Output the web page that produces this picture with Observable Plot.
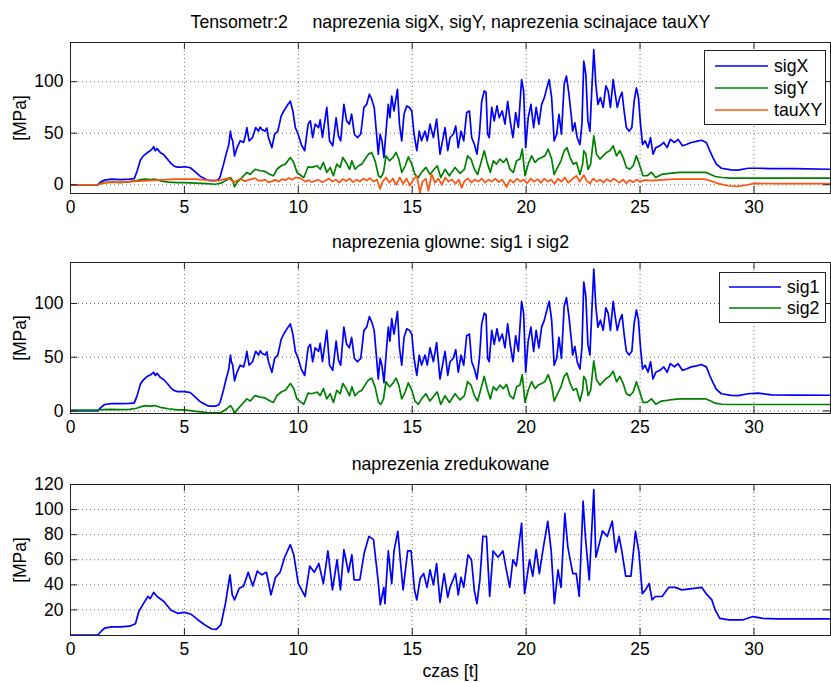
<!DOCTYPE html>
<html><head><meta charset="utf-8">
<script src="https://cdn.jsdelivr.net/npm/d3@7"></script>
<script src="https://cdn.jsdelivr.net/npm/@observablehq/plot@0.6"></script>
<style>
body{margin:0;background:#fff;}
#fig{position:relative;width:831px;height:683px;font-family:"Liberation Sans",Arial,sans-serif;color:#000;overflow:hidden;background:#fff}
.title{position:absolute;left:70px;width:761px;text-align:center;font-size:17.7px;line-height:17px;white-space:pre}
.panel{position:absolute;left:0}
.legend{position:absolute}
</style></head>
<body><div id="fig"></div>
<script>
// ---- data (time [s], value [MPa]) ----
const xTicks = [0, 5, 10, 15, 20, 25, 30];
const yTicksTop = [0, 50, 100];
const yTicksBottom = [20, 40, 60, 80, 100, 120];

const sigX = [[0,0],[1.2,0],[1.35,3],[1.5,4.5],[1.8,5.5],[2.2,5],[2.6,5.5],[2.8,6],[2.92,13],[3.07,24],[3.2,28],[3.36,31],[3.5,33],[3.6,35],[3.65,37],[3.72,33],[3.8,35],[3.95,31],[4.1,29],[4.25,25],[4.4,21],[4.55,18],[4.7,17],[4.85,17],[5.0,17.5],[5.15,17],[5.26,16.5],[5.4,14],[5.55,11],[5.7,8],[5.84,6.5],[6.0,4.5],[6.14,4],[6.36,3.9],[6.5,5],[6.58,8.7],[6.72,20],[6.83,29.7],[6.95,39],[7.02,52],[7.06,46],[7.12,42.6],[7.2,28],[7.31,36],[7.45,42.6],[7.6,41],[7.68,48],[7.74,55.5],[7.84,42.6],[7.99,45.8],[8.13,55.5],[8.25,52],[8.33,56],[8.4,53.6],[8.54,52],[8.62,55],[8.69,45.8],[8.84,36],[8.96,49],[9.1,52],[9.25,66.8],[9.4,73],[9.55,78],[9.65,81],[9.76,71.6],[9.87,55.5],[9.99,49],[10.13,39],[10.28,33],[10.43,58.8],[10.53,62],[10.63,45.8],[10.74,58.8],[10.89,55.5],[10.96,63],[11.06,46],[11.25,75],[11.37,42.6],[11.51,37.8],[11.66,65],[11.76,47.4],[11.86,42.6],[12.0,78],[12.12,62],[12.24,58.8],[12.34,68.4],[12.46,49],[12.59,45.8],[12.74,49],[12.88,75],[13.0,78],[13.12,87.8],[13.22,83],[13.33,75],[13.41,55.5],[13.51,29.7],[13.59,49],[13.67,42.6],[13.76,26.4],[13.85,52],[13.95,78],[14.02,65],[14.1,86],[14.2,71.6],[14.35,92.6],[14.44,58.8],[14.54,42.6],[14.64,68.4],[14.76,76.5],[14.88,75],[14.98,71.6],[15.08,49],[15.2,33],[15.31,52],[15.41,42.6],[15.56,52],[15.66,42.6],[15.78,58.8],[15.93,45.8],[16.07,63.6],[16.22,29.7],[16.33,42.6],[16.44,55.5],[16.56,33],[16.66,45.8],[16.8,49],[16.91,57],[17.02,36],[17.14,52],[17.26,42.6],[17.39,70],[17.51,71.6],[17.61,45.8],[17.73,39],[17.84,29.7],[17.95,49],[18.05,81],[18.16,91],[18.24,89.7],[18.31,49],[18.38,45.8],[18.49,75],[18.6,62],[18.72,76.5],[18.82,65],[18.95,71.6],[19.07,58.8],[19.19,81],[19.3,62],[19.42,45.8],[19.54,70],[19.66,55.5],[19.8,102],[19.89,91],[19.98,36],[20.09,65],[20.21,78],[20.33,55.5],[20.44,75],[20.56,58.8],[20.68,78],[20.8,84.5],[20.91,94],[21.01,102],[21.12,84.5],[21.23,42.6],[21.34,49],[21.44,68.4],[21.55,49],[21.67,97.5],[21.77,105.5],[21.88,87.8],[21.99,65],[22.04,52],[22.14,60],[22.24,45.8],[22.36,39],[22.45,58.8],[22.53,120],[22.62,107],[22.71,62],[22.8,52],[22.88,91],[22.97,131],[23.06,97.5],[23.15,78],[23.26,84.5],[23.38,75],[23.5,96],[23.6,91],[23.7,75],[23.82,102],[23.91,87.8],[24.0,75],[24.11,84.5],[24.21,89.7],[24.3,71.6],[24.4,55.5],[24.52,52],[24.64,55.5],[24.74,81],[24.84,94],[24.93,84.5],[25.02,58.8],[25.11,39],[25.22,42.6],[25.35,36],[25.46,45.8],[25.57,29.7],[25.69,36],[25.87,37.8],[26.04,41],[26.19,36],[26.33,44],[26.51,41],[26.67,44],[26.86,37.8],[27.03,39],[27.25,41],[27.47,42],[27.69,43.2],[27.91,41],[28.06,33],[28.2,26.4],[28.35,20],[28.57,16],[29.0,14.5],[29.3,14.2],[29.74,16],[30.18,16],[30.76,15.7],[31.78,15.7],[33.36,15]];

const sigY = [[0,0],[1.2,0],[1.4,2],[1.8,2.5],[2.2,2],[2.6,3],[2.9,4],[3.1,5],[3.3,5.5],[3.5,5],[3.7,5.5],[4.0,3.5],[4.3,2.5],[4.7,2],[5.0,2],[5.5,1.5],[6.0,1],[6.36,0.5],[6.6,1.5],[6.8,3.9],[7.02,7],[7.12,3.9],[7.2,-2],[7.31,2.3],[7.53,7],[7.74,12],[7.89,10],[8.1,15],[8.33,13.6],[8.54,12.9],[8.76,10],[8.91,8.7],[9.06,15],[9.25,18.4],[9.43,20],[9.65,26.4],[9.8,21.6],[9.94,12],[10.13,8.7],[10.24,7],[10.43,17.4],[10.6,16.8],[10.82,18.4],[10.96,15],[11.1,21.6],[11.25,12],[11.4,16.8],[11.54,8.7],[11.69,20],[11.84,16.8],[11.95,26.4],[12.1,21.6],[12.25,15],[12.35,23.2],[12.49,15],[12.64,18.4],[12.79,20],[12.93,24.9],[13.08,29.7],[13.22,31.3],[13.37,23.2],[13.52,8.7],[13.62,7],[13.74,12],[13.85,28],[14.0,23.2],[14.15,26.4],[14.29,31.3],[14.41,24.9],[14.54,12],[14.69,18.4],[14.83,27],[14.98,20],[15.12,10],[15.27,7],[15.41,12],[15.6,16.8],[15.78,10],[15.96,15],[16.1,18.4],[16.25,7],[16.44,15],[16.63,8.7],[16.88,16.8],[17.1,11],[17.29,15],[17.43,28],[17.58,24.9],[17.73,15],[17.87,10],[18.02,21.6],[18.16,33],[18.31,20],[18.43,12],[18.56,23.2],[18.7,20],[18.85,24.9],[19.0,21.6],[19.14,25.5],[19.29,15],[19.44,12],[19.58,23.2],[19.73,24.9],[19.83,34.5],[19.95,8.7],[20.09,20],[20.24,28],[20.39,21.6],[20.53,24.9],[20.68,26.4],[20.82,28],[20.97,34.5],[21.12,24.9],[21.23,10],[21.38,16.8],[21.53,23.2],[21.67,33],[21.79,36],[21.93,26.4],[22.07,20],[22.21,21.6],[22.36,10],[22.48,20],[22.53,33],[22.62,29.7],[22.72,15],[22.83,20],[22.97,47.4],[23.09,29.7],[23.24,24.9],[23.38,28],[23.53,31.3],[23.67,33],[23.82,37.8],[23.97,28],[24.11,33],[24.26,26.4],[24.4,16.8],[24.55,15],[24.7,18.4],[24.84,28],[24.99,18.4],[25.13,8.7],[25.31,8.7],[25.5,12],[25.69,7],[25.94,10],[26.3,11],[26.74,12],[27.18,12],[27.59,12],[27.9,12],[28.1,10],[28.3,8],[28.6,7],[29,6.5],[33.36,6.5]];

const tauXY = [[0,0],[1.2,0],[1.4,1.5],[1.8,2.5],[2.2,2.5],[2.6,3],[3.0,3.5],[3.4,4],[3.8,4.5],[4.2,5],[4.6,5.5],[5.0,5.5],[5.5,5.5],[6.0,4.5],[6.5,4],[6.95,6.4],[7.17,2.3],[7.45,5.5],[7.65,3.5],[7.82,4.7],[8.1,6.4],[8.25,4],[8.4,3.9],[8.55,5],[8.69,2.3],[8.85,3.5],[8.98,4.7],[9.15,3],[9.28,5.5],[9.45,4.5],[9.57,6.4],[9.75,5],[9.87,7],[10.09,6.4],[10.3,3],[10.45,4.5],[10.6,2.3],[10.75,4],[10.89,4.7],[11.05,2.5],[11.18,3.9],[11.35,6],[11.5,3],[11.65,5],[11.8,2],[11.95,5.5],[12.1,3.5],[12.25,6],[12.4,2.5],[12.55,5],[12.7,3],[12.85,6],[13.0,4],[13.15,6.5],[13.3,3],[13.45,5],[13.59,-4],[13.7,3],[13.85,7],[14.0,2],[14.15,6],[14.3,0],[14.45,7],[14.6,1],[14.75,6],[14.9,-1],[15.05,5],[15.2,8.7],[15.34,-7.5],[15.45,3],[15.6,6],[15.71,-5.8],[15.85,10.3],[16.0,2],[16.15,6],[16.3,0],[16.45,7],[16.6,3],[16.75,5],[16.9,1],[17.05,5],[17.17,-3],[17.3,4],[17.45,6],[17.6,2],[17.75,5],[17.9,3],[18.05,6],[18.2,2],[18.35,5],[18.5,3],[18.65,6],[18.8,2.5],[18.95,5],[19.14,-2.2],[19.3,5],[19.45,2],[19.6,6],[19.75,3],[19.9,5],[20.05,1.5],[20.2,6],[20.35,3],[20.5,5.5],[20.65,2],[20.8,6],[20.95,3],[21.1,5],[21.25,1],[21.4,6],[21.55,3],[21.7,7],[21.85,2],[22.0,5],[22.21,8.7],[22.35,3],[22.53,9.5],[22.65,4],[22.8,1.3],[22.95,6],[23.1,3],[23.25,5],[23.4,2],[23.55,5.5],[23.7,3],[23.85,6],[23.97,4],[24.1,2],[24.25,5],[24.4,1.5],[24.55,4.5],[24.7,2.5],[24.85,5],[25.0,3],[25.2,4.5],[25.5,3.9],[25.8,4.5],[26.2,5],[26.5,5.5],[27.0,5.5],[27.5,5.5],[27.8,5.5],[28.1,3.9],[28.4,1.3],[28.86,-1],[29.3,-1.6],[29.74,0],[30.03,1.3],[31,1],[33.36,1]];

const sig1 = [[0,0],[1.2,0],[1.35,3.5],[1.5,6],[1.8,6.8],[2.2,6.8],[2.6,7],[2.8,7.5],[2.92,14],[3.07,25],[3.2,29],[3.36,32],[3.5,33.5],[3.6,35],[3.65,36],[3.72,33],[3.8,35],[3.95,31],[4.1,29],[4.25,25.5],[4.4,21.5],[4.55,19],[4.7,18],[4.85,18],[5.0,18],[5.15,17.5],[5.26,17],[5.4,14.5],[5.55,11.5],[5.7,8.5],[5.84,7],[6.0,5],[6.14,4.5],[6.36,4.5],[6.5,5.5],[6.58,9],[6.72,20],[6.83,29.7],[6.95,39],[7.02,52],[7.06,46],[7.12,42.6],[7.2,28],[7.31,36],[7.45,42.6],[7.6,41],[7.68,48],[7.74,55.5],[7.84,42.6],[7.99,45.8],[8.13,55.5],[8.25,52],[8.33,56],[8.4,53.6],[8.54,52],[8.62,55],[8.69,45.8],[8.84,36],[8.96,49],[9.1,52],[9.25,66.8],[9.4,73],[9.55,78],[9.65,81],[9.76,71.6],[9.87,55.5],[9.99,49],[10.13,39],[10.28,33],[10.43,58.8],[10.53,62],[10.63,45.8],[10.74,58.8],[10.89,55.5],[10.96,63],[11.06,46],[11.25,75],[11.37,42.6],[11.51,37.8],[11.66,65],[11.76,47.4],[11.86,42.6],[12.0,78],[12.12,62],[12.24,58.8],[12.34,68.4],[12.46,49],[12.59,45.8],[12.74,49],[12.88,75],[13.0,78],[13.12,87.8],[13.22,83],[13.33,75],[13.41,55.5],[13.51,29.7],[13.59,49],[13.67,42.6],[13.76,26.4],[13.85,52],[13.95,78],[14.02,65],[14.1,86],[14.2,71.6],[14.35,92.6],[14.44,58.8],[14.54,42.6],[14.64,68.4],[14.76,76.5],[14.88,75],[14.98,71.6],[15.08,49],[15.2,33],[15.31,52],[15.41,42.6],[15.56,52],[15.66,42.6],[15.78,58.8],[15.93,45.8],[16.07,63.6],[16.22,29.7],[16.33,42.6],[16.44,55.5],[16.56,33],[16.66,45.8],[16.8,49],[16.91,57],[17.02,36],[17.14,52],[17.26,42.6],[17.39,70],[17.51,71.6],[17.61,45.8],[17.73,39],[17.84,29.7],[17.95,49],[18.05,81],[18.16,91],[18.24,89.7],[18.31,49],[18.38,45.8],[18.49,75],[18.6,62],[18.72,76.5],[18.82,65],[18.95,71.6],[19.07,58.8],[19.19,81],[19.3,62],[19.42,45.8],[19.54,70],[19.66,55.5],[19.8,102],[19.89,91],[19.98,36],[20.09,65],[20.21,78],[20.33,55.5],[20.44,75],[20.56,58.8],[20.68,78],[20.8,84.5],[20.91,94],[21.01,102],[21.12,84.5],[21.23,42.6],[21.34,49],[21.44,68.4],[21.55,49],[21.67,97.5],[21.77,105.5],[21.88,87.8],[21.99,65],[22.04,52],[22.14,60],[22.24,45.8],[22.36,39],[22.45,58.8],[22.53,120],[22.62,107],[22.71,62],[22.8,52],[22.88,91],[22.97,132],[23.06,97.5],[23.15,78],[23.26,84.5],[23.38,75],[23.5,96],[23.6,91],[23.7,75],[23.82,102],[23.91,87.8],[24.0,75],[24.11,84.5],[24.21,89.7],[24.3,71.6],[24.4,55.5],[24.52,52],[24.64,55.5],[24.74,81],[24.84,94],[24.93,84.5],[25.02,58.8],[25.11,39],[25.22,42.6],[25.35,36],[25.46,45.8],[25.57,29.7],[25.69,36],[25.87,37.8],[26.04,41],[26.19,36],[26.33,44],[26.51,41],[26.67,44],[26.86,37.8],[27.03,39],[27.25,41],[27.47,42],[27.69,43.2],[27.91,41],[28.06,33],[28.2,26.4],[28.35,20],[28.57,16],[29.0,14.5],[29.3,14.2],[29.74,16],[30.18,16.5],[30.76,15],[31.78,14.8],[33.36,14.6]];

const sig2 = [[0,0.8],[1.2,0.8],[1.4,1.3],[1.8,1.5],[2.2,1.3],[2.6,1.5],[2.9,2.5],[3.1,4],[3.3,5],[3.5,4.5],[3.7,5],[4.0,3],[4.3,2],[4.7,1],[5.0,1],[5.5,-0.5],[6.0,-1.5],[6.36,-1.8],[6.6,-1.5],[6.8,1],[7.02,5],[7.12,2],[7.2,-2.4],[7.31,1],[7.53,6.2],[7.74,11.2],[7.89,9.2],[8.1,14.2],[8.33,12.8],[8.54,12.1],[8.76,9.2],[8.91,7.9],[9.06,14.2],[9.25,17.6],[9.43,19.2],[9.65,25.6],[9.8,20.8],[9.94,11.2],[10.13,7.9],[10.24,6.2],[10.43,16.6],[10.6,16],[10.82,17.6],[10.96,14.2],[11.1,20.8],[11.25,11.2],[11.4,16],[11.54,7.9],[11.69,19.2],[11.84,16],[11.95,25.6],[12.1,20.8],[12.25,14.2],[12.35,22.4],[12.49,14.2],[12.64,17.6],[12.79,19.2],[12.93,24.1],[13.08,28.9],[13.22,30.5],[13.37,22.4],[13.52,7.9],[13.62,6.2],[13.74,11.2],[13.85,27.2],[14.0,22.4],[14.15,25.6],[14.29,30.5],[14.41,24.1],[14.54,11.2],[14.69,17.6],[14.83,26.2],[14.98,19.2],[15.12,9.2],[15.27,6.2],[15.41,11.2],[15.6,16],[15.78,9.2],[15.96,14.2],[16.1,17.6],[16.25,6.2],[16.44,14.2],[16.63,7.9],[16.88,16],[17.1,10.2],[17.29,14.2],[17.43,27.2],[17.58,24.1],[17.73,14.2],[17.87,9.2],[18.02,20.8],[18.16,32.2],[18.31,19.2],[18.43,11.2],[18.56,22.4],[18.7,19.2],[18.85,24.1],[19.0,20.8],[19.14,24.7],[19.29,14.2],[19.44,11.2],[19.58,22.4],[19.73,24.1],[19.83,33.7],[19.95,7.9],[20.09,19.2],[20.24,27.2],[20.39,20.8],[20.53,24.1],[20.68,25.6],[20.82,27.2],[20.97,33.7],[21.12,24.1],[21.23,9.2],[21.38,16],[21.53,22.4],[21.67,32.2],[21.79,35.2],[21.93,25.6],[22.07,19.2],[22.21,20.8],[22.36,9.2],[22.48,19.2],[22.53,32.2],[22.62,28.9],[22.72,14.2],[22.83,19.2],[22.97,46.6],[23.09,28.9],[23.24,24.1],[23.38,27.2],[23.53,30.5],[23.67,32.2],[23.82,37],[23.97,27.2],[24.11,32.2],[24.26,25.6],[24.4,16],[24.55,14.2],[24.7,17.6],[24.84,27.2],[24.99,17.6],[25.13,7.9],[25.31,7.9],[25.5,11.2],[25.69,6.2],[25.94,9.2],[26.3,10.2],[26.74,11.2],[27.18,11.2],[27.59,11.2],[27.9,11.2],[28.1,9.2],[28.3,7.2],[28.6,6.2],[29,6],[33.36,6]];

const sigRed = [[0,0],[1.2,0],[1.35,3],[1.5,5.5],[1.8,6.5],[2.2,6.5],[2.6,7],[2.85,9],[3.0,18.7],[3.2,25],[3.4,30.7],[3.5,29],[3.65,34],[3.8,30.7],[4.1,26.7],[4.4,20],[4.7,17.3],[5.0,18],[5.3,16.5],[5.6,12],[5.9,8],[6.2,4.8],[6.4,4.5],[6.6,8],[6.8,25],[7.0,48],[7.1,32],[7.2,28],[7.4,37],[7.6,39],[7.8,50],[8.0,39],[8.2,51],[8.4,48],[8.6,50],[8.8,32],[9.0,46],[9.2,50],[9.4,62],[9.65,72],[9.8,64],[10.0,41],[10.3,30.7],[10.5,55],[10.7,50],[10.9,57],[11.1,41],[11.3,67],[11.5,36],[11.7,60],[11.85,36],[12.0,68],[12.2,50],[12.35,64],[12.45,44],[12.7,44],[12.9,66],[13.1,78.6],[13.3,76],[13.5,44],[13.6,24],[13.75,38],[13.8,25],[13.95,67],[14.1,41],[14.2,67],[14.37,82.7],[14.5,55],[14.6,36],[14.8,67],[14.95,67],[15.1,36],[15.2,28],[15.35,45],[15.5,49],[15.65,38],[15.78,52],[15.93,40],[16.07,57],[16.22,26],[16.4,49],[16.56,30],[16.66,38],[16.9,49],[17.02,32],[17.14,46],[17.26,38],[17.45,64],[17.6,60],[17.73,35],[17.84,25],[17.97,44],[18.1,78.6],[18.26,78.6],[18.4,30.7],[18.55,67],[18.77,62],[18.98,67],[19.13,52],[19.28,38],[19.42,60],[19.57,55],[19.8,89],[19.93,33],[20.15,60],[20.29,47],[20.44,68],[20.58,49],[20.73,67],[20.95,90.7],[21.1,67],[21.24,25],[21.4,52],[21.53,38],[21.7,97],[21.83,70],[22.05,49],[22.2,49],[22.33,30.7],[22.5,106.7],[22.6,78.6],[22.77,44],[22.97,116],[23.06,62],[23.2,72],[23.35,83],[23.56,78.6],[23.78,90.7],[23.93,66],[24.08,78.6],[24.2,67],[24.37,47],[24.6,47],[24.8,82.7],[24.95,66],[25.1,33],[25.24,36],[25.4,41],[25.53,28],[25.68,30.7],[25.97,30.7],[26.26,38],[26.55,38],[26.84,36],[27.28,37],[27.7,38],[27.9,33],[28.15,28],[28.3,20],[28.5,13.3],[28.9,12],[29.5,12],[29.95,14.7],[30.4,13.3],[31,12.8],[33.36,12.8]];

// ---- drawing ----
const BLUE = "#0000ff", GREEN = "#008000", ORANGE = "#ff5310";
const FONT = "'Liberation Sans', Arial, sans-serif";
const fig = document.getElementById("fig");

function panel(top, yDomain, yTicks, series) {
  const ml = 70, mr = 1, mt = 12, mb = 28, fh = 151, W = 831;
  const fw = W - ml - mr, tl = 7;
  const gridStyle = {stroke: "#555", strokeOpacity: 0.85, strokeDasharray: "1,3", strokeWidth: 1};
  const p = Plot.plot({
    width: W, height: mt + fh + mb,
    marginLeft: ml, marginRight: mr, marginTop: mt, marginBottom: mb,
    style: {fontSize: "17.5px", fontFamily: FONT, color: "#000", background: "transparent"},
    x: {domain: [0, 33.36]},
    y: {domain: yDomain},
    marks: [
      Plot.gridX(xTicks, gridStyle),
      Plot.gridY(yTicks, gridStyle),
      ...series.map(s => Plot.line(s.data.map(([t, v]) => ({t, v})), {x: "t", y: "v", stroke: s.color, strokeWidth: 1.7, strokeLinejoin: "round", clip: true})),
      Plot.tickX(xTicks, {x: d => d, insetTop: fh - tl, stroke: "#222"}),
      Plot.tickX(xTicks, {x: d => d, insetBottom: fh - tl, stroke: "#222"}),
      Plot.tickY(yTicks, {y: d => d, insetRight: fw - tl, stroke: "#222"}),
      Plot.tickY(yTicks, {y: d => d, insetLeft: fw - tl, stroke: "#222"}),
      Plot.axisX(xTicks, {tickSize: 0, tickPadding: 7, label: null, fill: "#000"}),
      Plot.axisY(yTicks, {tickSize: 0, tickPadding: 7, label: "[MPa]", labelAnchor: "center", labelOffset: 57, labelArrow: "none", fill: "#000"}),
      Plot.frame({stroke: "#222"})
    ]
  });
  p.classList.add("panel");
  p.style.position = "absolute";
  p.style.top = top + "px";
  p.style.left = "0px";
  fig.appendChild(p);
}

function title(text, top) {
  const d = document.createElement("div");
  d.className = "title";
  d.style.top = top + "px";
  d.textContent = text;
  fig.appendChild(d);
}

function legend(left, top, w, h, items, lineX1, lineX2, textX, rowY) {
  const svg = d3.create("svg").attr("width", w).attr("height", h)
    .style("position", "absolute").style("left", left + "px").style("top", top + "px")
    .style("font-family", FONT).style("font-size", "17.7px");
  svg.append("rect").attr("x", 0.5).attr("y", 0.5).attr("width", w - 1).attr("height", h - 1)
    .attr("fill", "#fff").attr("stroke", "#222");
  items.forEach((it, i) => {
    svg.append("line").attr("x1", lineX1).attr("x2", lineX2).attr("y1", rowY[i]).attr("y2", rowY[i])
      .attr("stroke", it.color).attr("stroke-width", 1.6);
    svg.append("text").attr("x", textX).attr("y", rowY[i]).attr("dy", "0.35em").attr("fill", "#000").text(it.label);
  });
  fig.appendChild(svg.node());
}

panel(30, [-8.5, 138], yTicksTop, [
  {data: sigX, color: BLUE}, {data: sigY, color: GREEN}, {data: tauXY, color: ORANGE}
]);
panel(250, [-2.4, 138.2], yTicksTop, [
  {data: sig1, color: BLUE}, {data: sig2, color: GREEN}
]);
panel(472, [-0.4, 120], yTicksBottom, [
  {data: sigRed, color: BLUE}
]);

title("Tensometr:2     naprezenia sigX, sigY, naprezenia scinajace tauXY", 14);
title("naprezenia glowne: sig1 i sig2", 234);
title("naprezenia zredukowane", 456);
title("czas [t]", 663);

legend(704, 50, 122, 75, [
  {label: "sigX", color: BLUE}, {label: "sigY", color: GREEN}, {label: "tauXY", color: ORANGE}
], 11, 64, 70, [16, 38, 60]);
legend(719, 272, 107, 51, [
  {label: "sig1", color: BLUE}, {label: "sig2", color: GREEN}
], 10, 62, 68, [15, 36]);
</script>
</body></html>
